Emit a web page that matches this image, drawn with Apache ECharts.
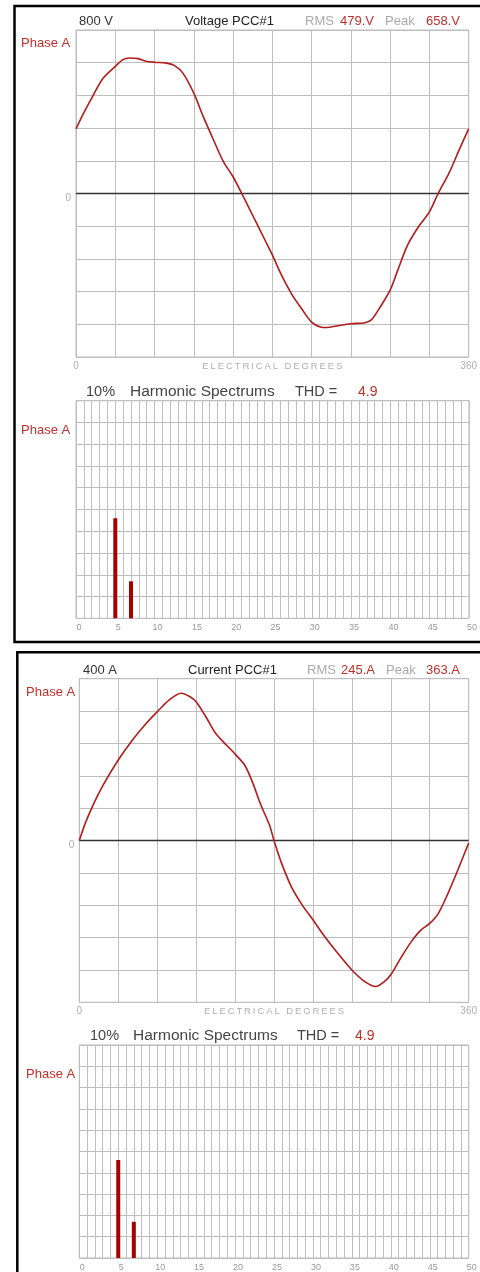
<!DOCTYPE html>
<html>
<head>
<meta charset="utf-8">
<script src="https://cdn.jsdelivr.net/npm/echarts@6/dist/echarts.min.js"></script>
<style>
html,body{margin:0;padding:0;background:#fff;}
#c{width:480px;height:1272px;}
</style>
</head>
<body>
<div id="c"></div>
<script>
// ---- data ----
const voltageDegrees = [0, 7, 16, 25, 36, 43, 49, 57, 64, 72, 83, 90, 98, 108, 116, 126, 135, 144, 152, 159, 166, 173, 180, 188, 198, 207, 216, 224, 230, 239, 252, 265, 271, 278, 288, 295, 304, 314, 324, 332, 342, 351, 360];
const voltageValues  = [316, 393, 483, 565, 622, 655, 663, 660, 647, 642, 638, 627, 589, 491, 385, 263, 157, 82, 0, -75, -150, -225, -300, -395, -495, -565, -629, -653, -656, -648, -637, -632, -617, -563, -473, -375, -253, -163, -90, 0, 100, 210, 316];

const currentDegrees = [0, 6, 14, 22, 36, 49, 62, 72, 83, 94, 102, 108, 117, 126, 136, 145, 153, 160, 168, 176, 180, 187, 196, 206, 216, 227, 239, 252, 264, 274, 282, 288, 298, 307, 316, 324, 332, 341, 350, 360];
const currentValues  = [0, 46, 95, 137, 199, 248, 290, 318, 347, 364, 356, 343, 306, 265, 236, 211, 186, 145, 87, 37, 0, -56, -114, -159, -196, -238, -279, -320, -349, -361, -349, -332, -287, -250, -221, -205, -180, -130, -73, -6];

const harmonicOrders = [5, 7];
const voltageHarmonicPct = [4.6, 1.7];
const currentHarmonicPct = [4.6, 1.7];

const degreeTicks = [0, 360];
const harmonicTickStep = 5;

const voltageHeader = {scale: '800 V', title: 'Voltage PCC#1', rms: '479.V', peak: '658.V'};
const currentHeader = {scale: '400 A', title: 'Current PCC#1', rms: '245.A', peak: '363.A'};
const harmonicHeader = {scale: '10%', title: 'Harmonic Spectrums', thd: '4.9'};
const phaseLabel = 'Phase A';
const axisTitle = 'ELECTRICAL DEGREES';

// ---- styling ----
const FONT = '"Liberation Sans", Arial, sans-serif';
const RED = '#c0302b';
const WAVE = '#b31b1b';
const BAR = '#a80000';
const GRIDC = '#bebebe';
const LABELC = '#b0b0b0';

function pair(xs, ys){ return xs.map((x,i)=>[x, ys[i]]); }
const spaced = axisTitle.split('').join('\u2009');

const grids = [
  {left:76, top:30, width:393, height:327},
  {left:76, top:400.7, width:393, height:217.6},
  {left:79.3, top:678.7, width:389.4, height:323.6},
  {left:79.3, top:1045, width:389.4, height:216.7}
].map(g => Object.assign({show:true, borderColor:'#bbbbbb', borderWidth:1, backgroundColor:'#fff', containLabel:false}, g));

function waveX(gi){
  return {
    gridIndex:gi, type:'value', min:0, max:360, interval:36,
    axisLine:{show:false}, axisTick:{show:false},
    splitLine:{show:true, lineStyle:{color:GRIDC, width:1}},
    axisLabel:{show:true, margin:4, color:LABELC, fontSize:10, fontFamily:FONT,
      formatter: v => degreeTicks.indexOf(v) >= 0 ? String(v) : ''},
    name: spaced, nameLocation:'middle', nameGap:4, nameMoveOverlap:false,
    nameTextStyle:{color:LABELC, fontSize:9.5, fontFamily:FONT, verticalAlign:'top'}
  };
}
function waveY(gi, full){
  return {
    gridIndex:gi, type:'value', min:-full, max:full, interval:full/5,
    axisLine:{show:false}, axisTick:{show:false},
    splitLine:{show:true, lineStyle:{color:GRIDC, width:1}},
    axisLabel:{show:true, margin:5, color:LABELC, fontSize:10, fontFamily:FONT, verticalAlign:'top',
      formatter: v => v === 0 ? '0' : ''}
  };
}
function harmX(gi){
  return {
    gridIndex:gi, type:'value', min:0, max:50, interval:1,
    axisLine:{show:false}, axisTick:{show:false},
    splitLine:{show:true, lineStyle:{color:GRIDC, width:1}},
    axisLabel:{show:true, margin:5, color:'#999', fontSize:9, fontFamily:FONT, padding:[0,0,0,6],
      formatter: v => v % harmonicTickStep === 0 ? String(v) : ''}
  };
}
function harmY(gi){
  return {
    gridIndex:gi, type:'value', min:0, max:10, interval:1,
    axisLine:{show:false}, axisTick:{show:false},
    splitLine:{show:true, lineStyle:{color:GRIDC, width:1}},
    axisLabel:{show:false}
  };
}

function waveSeries(gi, xs, ys){
  return {
    type:'line', xAxisIndex:gi, yAxisIndex:gi, data:pair(xs, ys),
    smooth:0.3, showSymbol:false, symbol:'none',
    lineStyle:{color:WAVE, width:1.6}, z:5,
    markLine:{silent:true, symbol:['none','none'], label:{show:false},
      lineStyle:{color:'#333', width:1.4, type:'solid'}, data:[{yAxis:0}]}
  };
}
function barSeries(gi, vals){
  return {
    type:'bar', xAxisIndex:gi, yAxisIndex:gi, data:pair(harmonicOrders, vals),
    barWidth:4, itemStyle:{color:BAR}, z:5
  };
}

function txt(x, y, text, color, size){
  return {type:'text', x:x, y:y, silent:true, z:100,
    style:{text:text, fill:color, fontSize:size, fontFamily:FONT, align:'left', verticalAlign:'middle'}};
}

function waveHeaderTexts(y, h, xs){
  return [
    txt(xs[0], y, h.scale, '#333', 13),
    txt(xs[1], y, h.title, '#222', 13),
    txt(xs[2], y, 'RMS', '#aaa', 13),
    txt(xs[3], y, h.rms, RED, 13),
    txt(xs[4], y, 'Peak', '#aaa', 13),
    txt(xs[5], y, h.peak, RED, 13)
  ];
}
function harmHeaderTexts(y, xs){
  return [
    txt(xs[0], y, harmonicHeader.scale, '#444', 14.5),
    txt(xs[1], y, harmonicHeader.title, '#444', 15.5),
    txt(xs[2], y, 'THD =', '#444', 14.5),
    txt(xs[3], y, harmonicHeader.thd, RED, 14)
  ];
}

const graphics = [
  {type:'rect', z:90, silent:true, shape:{x:14.5, y:6, width:480, height:636}, style:{fill:'none', stroke:'#000', lineWidth:2.5}},
  {type:'rect', z:90, silent:true, shape:{x:17.3, y:652.3, width:480, height:640}, style:{fill:'none', stroke:'#000', lineWidth:2.5}},
  ...waveHeaderTexts(21.5, voltageHeader, [79, 185, 305, 340, 385, 426]),
  txt(21, 43, phaseLabel, RED, 13),
  ...harmHeaderTexts(392, [86, 130, 295, 358]),
  txt(21, 430, phaseLabel, RED, 13),
  ...waveHeaderTexts(670, currentHeader, [83, 188, 307, 341, 386, 426]),
  txt(26, 692, phaseLabel, RED, 13),
  ...harmHeaderTexts(1036, [90, 133, 297, 355]),
  txt(26, 1074, phaseLabel, RED, 13)
];

const chart = echarts.init(document.getElementById('c'), null, {renderer:'canvas'});
chart.setOption({
  animation:false,
  backgroundColor:'#fff',
  grid: grids,
  xAxis:[waveX(0), harmX(1), waveX(2), harmX(3)],
  yAxis:[waveY(0, 800), harmY(1), waveY(2, 400), harmY(3)],
  series:[
    waveSeries(0, voltageDegrees, voltageValues),
    barSeries(1, voltageHarmonicPct),
    waveSeries(2, currentDegrees, currentValues),
    barSeries(3, currentHarmonicPct)
  ],
  graphic: graphics
});
</script>
</body>
</html>
